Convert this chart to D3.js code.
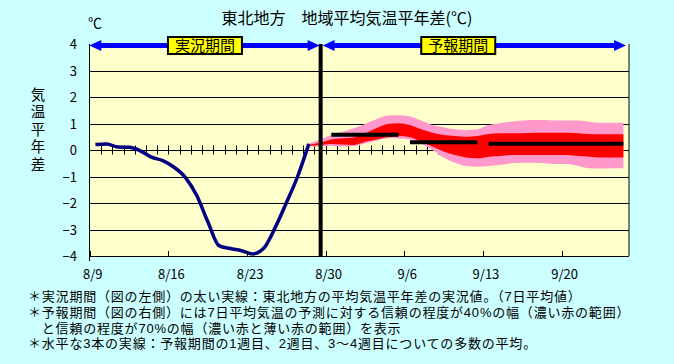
<!DOCTYPE html>
<html>
<head>
<meta charset="utf-8">
<script src="https://cdn.jsdelivr.net/npm/d3@7"></script>
<style>
  body { margin: 0; background: #ccffff; }
  svg { display: block; font-family: "Noto Sans CJK JP", "Noto Sans", sans-serif; }
  .note { font-family: "Liberation Sans", "Noto Sans CJK JP", sans-serif; }
</style>
</head>
<body>
<div id="chart"></div>
<script>
'use strict';

// days are counted from 8/9 (index 0), values are centred in each day
var dayCount = 48;
var tickLabels = ['8/9', '8/16', '8/23', '8/30', '9/6', '9/13', '9/20'];
var yTicks = [-4, -3, -2, -1, 0, 1, 2, 3, 4];

// observed 7-day mean anomaly, 8/9 .. 8/28
var observed = [0.21, 0.23, 0.11, 0.10, -0.03, -0.27, -0.40, -0.65, -1.03, -1.70,
    -2.70, -3.61, -3.72, -3.80, -3.92, -3.70, -2.93, -1.99, -1.00, 0.23];

// forecast bands, 8/28 .. 9/25
var forecastStart = 19;
var pinkUpper = [0.25, 0.40, 0.57, 0.69, 0.82, 0.98, 1.16, 1.30, 1.31, 1.26, 1.11, 0.94, 0.86, 0.78, 0.75,
    0.78, 0.94, 1.01, 1.07, 1.11, 1.13, 1.13, 1.11, 1.11, 1.11, 1.06, 1.03, 1.03, 1.03];
var pinkLower = [0.13, 0.13, 0.15, 0.13, 0.15, 0.25, 0.35, 0.44, 0.43, 0.40, 0.25, 0.00, -0.28, -0.48, -0.60,
    -0.63, -0.60, -0.57, -0.50, -0.48, -0.48, -0.50, -0.53, -0.53, -0.60, -0.69, -0.70, -0.69, -0.69];
var redUpper = [0.19, 0.28, 0.40, 0.44, 0.47, 0.63, 0.82, 0.98, 1.01, 0.94, 0.78, 0.65, 0.57, 0.53, 0.50,
    0.53, 0.60, 0.63, 0.63, 0.63, 0.65, 0.65, 0.65, 0.65, 0.63, 0.60, 0.59, 0.59, 0.59];
var redLower = [0.15, 0.19, 0.23, 0.21, 0.19, 0.31, 0.40, 0.48, 0.53, 0.48, 0.31, 0.13, -0.06, -0.19, -0.28,
    -0.31, -0.25, -0.23, -0.19, -0.19, -0.19, -0.19, -0.19, -0.19, -0.23, -0.25, -0.28, -0.28, -0.28];

// ensemble means for week 1, week 2, weeks 3-4
var weekStart = [21, 28, 35];
var weekEnd = [27, 34, 47];
var weekMean = [0.58, 0.29, 0.24];

var splitDay = 20.55;   // boundary between observed and forecast periods
var periodLabels = ['実況期間', '予報期間'];
var periodLabelDays = [10.25, 32.8];

var notes = [
    '＊実況期間（図の左側）の太い実線：東北地方の平均気温平年差の実況値。（7日平均値）',
    '＊予報期間（図の右側）には7日平均気温の予測に対する信頼の程度が40%の幅（濃い赤の範囲）',
    '　と信頼の程度が70%の幅（濃い赤と薄い赤の範囲）を表示',
    '＊水平な3本の実線：予報期間の1週目、2週目、3〜4週目についての多数の平均。'
];

var width = 674, height = 364;
var margin = { left: 89.8, top: 44, right: 45, bottom: 108 };

var svg = d3.select('#chart').append('svg')
    .attr('width', width)
    .attr('height', height);

svg.append('rect').attr('width', width).attr('height', height).attr('fill', '#ccffff');

var x = d3.scaleLinear().domain([0, dayCount]).range([margin.left, width - margin.right]);
var y = d3.scaleLinear().domain([-4, 4]).range([height - margin.bottom, margin.top]);

// plot background
svg.append('rect')
    .attr('x', x(0)).attr('y', y(4))
    .attr('width', x(dayCount) - x(0)).attr('height', y(-4) - y(4))
    .attr('fill', '#ffffcc');

// grid lines
svg.append('g').selectAll('line')
    .data(yTicks.filter(function (d) { return d > -4 && d < 4; }))
    .enter().append('line')
    .attr('x1', x(0)).attr('x2', x(dayCount))
    .attr('y1', function (d) { return Math.round(y(d)) + 0.5; })
    .attr('y2', function (d) { return Math.round(y(d)) + 0.5; })
    .attr('stroke', '#000').attr('stroke-width', 1);

// daily ticks across the zero line
svg.append('g').selectAll('line')
    .data(d3.range(1, dayCount))
    .enter().append('line')
    .attr('x1', function (d) { return Math.round(x(d)) + 0.5; })
    .attr('x2', function (d) { return Math.round(x(d)) + 0.5; })
    .attr('y1', y(0) - 4.5).attr('y2', y(0) + 4.5)
    .attr('stroke', '#000').attr('stroke-width', 1);

// forecast bands
var bandIdx = d3.range(pinkUpper.length);
var dayX = function (i) { return x(forecastStart + i + 0.5); };

svg.append('path')
    .datum(bandIdx)
    .attr('fill', '#ff99cc')
    .attr('d', d3.area().curve(d3.curveMonotoneX)
        .x(dayX)
        .y0(function (i) { return y(pinkLower[i]); })
        .y1(function (i) { return y(pinkUpper[i]); }));

svg.append('path')
    .datum(bandIdx)
    .attr('fill', '#ff0000')
    .attr('d', d3.area().curve(d3.curveMonotoneX)
        .x(dayX)
        .y0(function (i) { return y(redLower[i]); })
        .y1(function (i) { return y(redUpper[i]); }));

// ensemble mean bars
svg.append('g').selectAll('line')
    .data(weekMean)
    .enter().append('line')
    .attr('x1', function (d, i) { return x(weekStart[i] + 0.5); })
    .attr('x2', function (d, i) { return x(weekEnd[i] + 0.5); })
    .attr('y1', function (d) { return y(d); })
    .attr('y2', function (d) { return y(d); })
    .attr('stroke', '#000').attr('stroke-width', 4);

// observed line
svg.append('path')
    .datum(observed)
    .attr('fill', 'none')
    .attr('stroke', '#000080')
    .attr('stroke-width', 3.5)
    .attr('stroke-linejoin', 'round')
    .attr('d', d3.line().curve(d3.curveMonotoneX)
        .x(function (d, i) { return x(i + 0.5); })
        .y(function (d) { return y(d); }));

// axes frame
svg.append('line')
    .attr('x1', x(0)).attr('x2', x(dayCount))
    .attr('y1', y(-4) + 0.5).attr('y2', y(-4) + 0.5)
    .attr('stroke', '#000');
svg.append('line')
    .attr('x1', x(0) - 0.3).attr('x2', x(0) - 0.3)
    .attr('y1', y(4)).attr('y2', y(-4) + 5)
    .attr('stroke', '#000');
svg.append('line')
    .attr('x1', x(dayCount)).attr('x2', x(dayCount))
    .attr('y1', y(4)).attr('y2', y(-4))
    .attr('stroke', '#000');

// weekly ticks on the bottom axis
svg.append('g').selectAll('line')
    .data(tickLabels)
    .enter().append('line')
    .attr('x1', function (d, i) { return Math.round(x(i * 7)) + 0.5; })
    .attr('x2', function (d, i) { return Math.round(x(i * 7)) + 0.5; })
    .attr('y1', y(-4)).attr('y2', y(-4) - 5)
    .attr('stroke', '#000');

// split line
svg.append('line')
    .attr('x1', x(splitDay)).attr('x2', x(splitDay))
    .attr('y1', y(4)).attr('y2', y(-4))
    .attr('stroke', '#000').attr('stroke-width', 4);

// period arrows
var arrowY = y(4) + 1.5;
var arrows = [[x(0) - 0.5, x(splitDay) - 1], [x(splitDay) + 2, x(dayCount) - 3]];
var arrowG = svg.append('g');
arrows.forEach(function (a) {
    arrowG.append('line')
        .attr('x1', a[0] + 8).attr('x2', a[1] - 8)
        .attr('y1', arrowY).attr('y2', arrowY)
        .attr('stroke', '#0000ff').attr('stroke-width', 5);
    arrowG.append('path')
        .attr('fill', '#0000ff')
        .attr('d', 'M' + a[0] + ',' + arrowY + 'L' + (a[0] + 12) + ',' + (arrowY - 5.5) + 'L' + (a[0] + 12) + ',' + (arrowY + 5.5) + 'Z');
    arrowG.append('path')
        .attr('fill', '#0000ff')
        .attr('d', 'M' + a[1] + ',' + arrowY + 'L' + (a[1] - 12) + ',' + (arrowY - 5.5) + 'L' + (a[1] - 12) + ',' + (arrowY + 5.5) + 'Z');
});

// period labels
var labelG = svg.append('g').selectAll('g')
    .data(periodLabels)
    .enter().append('g')
    .attr('transform', function (d, i) { return 'translate(' + x(periodLabelDays[i]) + ',' + (y(4) + 1) + ')'; });
labelG.append('rect')
    .attr('x', -37).attr('y', -8)
    .attr('width', 74).attr('height', 17)
    .attr('fill', '#ffff00').attr('stroke', '#000').attr('stroke-width', 2);
labelG.append('text')
    .attr('text-anchor', 'middle')
    .attr('y', 6)
    .attr('font-size', 15)
    .attr('fill', '#000')
    .text(function (d) { return d; });

// y tick labels
svg.append('g').selectAll('text')
    .data(yTicks)
    .enter().append('text')
    .attr('x', 77)
    .attr('y', function (d) { return y(d) + 5; })
    .attr('text-anchor', 'end')
    .attr('font-size', 13)
    .attr('fill', '#000')
    .text(function (d) { return d < 0 ? '−' + Math.abs(d) : d; });

// x tick labels
svg.append('g').selectAll('text')
    .data(tickLabels)
    .enter().append('text')
    .attr('x', function (d, i) { return x(i * 7) + 3; })
    .attr('y', 279)
    .attr('text-anchor', 'middle')
    .attr('font-size', 13)
    .attr('fill', '#000')
    .text(function (d) { return d; });

// titles
svg.append('text')
    .attr('x', 347).attr('y', 24)
    .attr('text-anchor', 'middle')
    .attr('font-size', 16)
    .attr('fill', '#000')
    .text('東北地方　地域平均気温平年差(℃)');

svg.append('text')
    .attr('x', 88).attr('y', 28)
    .attr('font-size', 14)
    .attr('fill', '#000')
    .text('℃');

svg.append('text')
    .attr('x', 38).attr('y', 87)
    .attr('writing-mode', 'vertical-rl')
    .attr('letter-spacing', 3)
    .attr('font-size', 14.5)
    .attr('fill', '#000')
    .text('気温平年差');

// footnotes
svg.append('g').selectAll('text')
    .data(notes)
    .enter().append('text')
    .attr('class', 'note')
    .attr('x', 28)
    .attr('y', function (d, i) { return 301 + i * 15.8; })
    .attr('font-size', 13)
    .attr('letter-spacing', 0.8)
    .attr('fill', '#000')
    .text(function (d) { return d; });
</script>
</body>
</html>
